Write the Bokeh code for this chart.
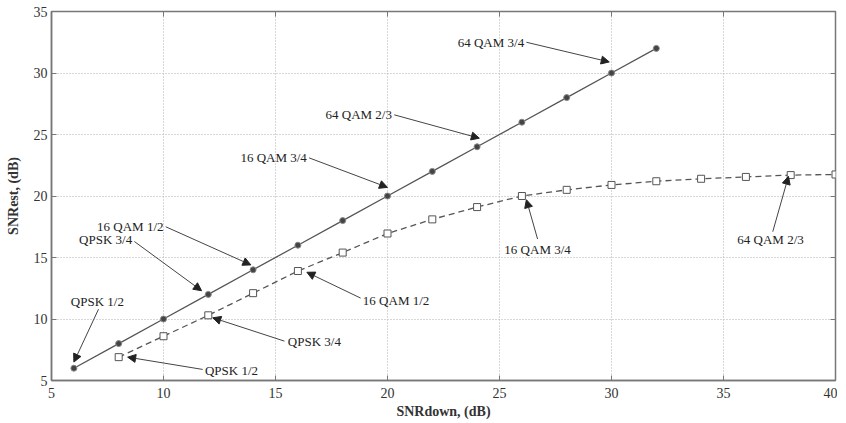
from bokeh.plotting import figure
from bokeh.models import ColumnDataSource, Arrow, NormalHead, LinearAxis, Range1d, FixedTicker
from bokeh.embed import file_html
from bokeh.resources import INLINE
from bokeh.core.properties import value

# ---- data ----
snr_down_a = [6, 8, 10, 12, 14, 16, 18, 20, 22, 24, 26, 28, 30, 32]
snr_est_a = [6, 8, 10, 12, 14, 16, 18, 20, 22, 24, 26, 28, 30, 32]

snr_down_b = [8, 10, 12, 14, 16, 18, 20, 22, 24, 26, 28, 30, 32, 34, 36, 38, 40]
snr_est_b = [6.9, 8.6, 10.3, 12.1, 13.9, 15.4, 16.95, 18.1, 19.1, 20.0, 20.5,
             20.9, 21.2, 21.4, 21.55, 21.7, 21.75]

x_ticks = [5, 10, 15, 20, 25, 30, 35, 40]
y_ticks = [5, 10, 15, 20, 25, 30, 35]

# annotations: label, text x, text y, arrow from (x, y) to (x, y)
ann_right_labels = ["64 QAM 3/4", "64 QAM 2/3", "16 QAM 3/4", "16 QAM 1/2", "QPSK 3/4"]
ann_right_tx = [26.1, 20.2, 16.4, 10.0, 8.6]
ann_right_ty = [32.5, 26.6, 23.1, 17.5, 16.5]

ann_left_labels = ["QPSK 1/2", "QPSK 3/4", "16 QAM 1/2"]
ann_left_tx = [11.85, 15.55, 18.9]
ann_left_ty = [5.8, 8.2, 11.5]

ann_center_labels = ["QPSK 1/2", "16 QAM 3/4", "64 QAM 2/3"]
ann_center_tx = [7.05, 26.7, 37.1]
ann_center_ty = [11.4, 15.65, 16.5]

arrow_x0 = [26.2, 20.3, 16.5, 10.1, 8.7, 11.75, 15.4, 18.8, 7.1, 26.7, 37.2]
arrow_y0 = [32.5, 26.6, 23.1, 17.5, 16.3, 5.9, 8.2, 11.7, 10.8, 16.5, 17.1]
arrow_x1 = [29.9, 24.1, 20.0, 13.9, 11.7, 8.4, 12.2, 16.4, 6.0, 26.2, 37.9]
arrow_y1 = [30.9, 24.7, 20.7, 14.4, 12.3, 6.9, 10.1, 13.8, 6.5, 19.7, 21.6]

SERIF = "Liberation Serif"

p = figure(frame_width=784, frame_height=369,
           x_range=Range1d(5, 40), y_range=Range1d(5, 35),
           output_backend="svg", toolbar_location=None,
           min_border_left=51, min_border_right=2, min_border_top=11, min_border_bottom=36)
p.background_fill_color = "white"
p.border_fill_color = "white"
p.outline_line_color = "#777777"
p.outline_line_width = 1.5

for ax in (p.xaxis[0], p.yaxis[0]):
    ax.major_label_text_font = SERIF
    ax.major_label_text_font_size = "14px"
    ax.major_label_text_color = "#333333"
    ax.major_tick_in = 5
    ax.major_tick_out = 0
    ax.minor_tick_line_color = None
    ax.axis_line_color = "#777777"
    ax.axis_line_width = 1.5
    ax.major_tick_line_color = "#777777"
    ax.axis_label_text_font = SERIF
    ax.axis_label_text_font_size = "14px"
    ax.axis_label_text_font_style = "bold"
    ax.axis_label_text_color = "#333333"
p.xaxis[0].ticker = FixedTicker(ticks=x_ticks)
p.yaxis[0].ticker = FixedTicker(ticks=y_ticks)
p.xaxis[0].axis_label = "SNRdown, (dB)"
p.yaxis[0].axis_label = "SNRest, (dB)"
p.xaxis[0].major_label_standoff = 7
p.yaxis[0].major_label_standoff = 4
p.xaxis[0].axis_label_standoff = 3
p.yaxis[0].axis_label_standoff = 10

for loc, tk in (("above", x_ticks), ("right", y_ticks)):
    ax = LinearAxis(ticker=FixedTicker(ticks=tk), major_tick_in=5, major_tick_out=0,
                    minor_tick_line_color=None, major_label_text_color=None,
                    major_label_text_font_size="1px",
                    major_label_standoff=0, axis_line_color=None,
                    major_tick_line_color="#777777")
    p.add_layout(ax, loc)

p.xgrid.ticker = FixedTicker(ticks=x_ticks)
p.ygrid.ticker = FixedTicker(ticks=y_ticks)
for g in (p.xgrid[0], p.ygrid[0]):
    g.grid_line_color = "#b0b0b0"
    g.grid_line_dash = "1 2"
    g.grid_line_width = 1

# series
p.line(snr_down_a, snr_est_a, line_color="#555555", line_width=1.3)
p.scatter(snr_down_a, snr_est_a, marker="circle", size=6, fill_color="#444444",
          line_color="#888888", line_width=1)

p.line(snr_down_b, snr_est_b, line_color="#555555", line_width=1.3, line_dash="6 4")
p.scatter(snr_down_b, snr_est_b, marker="square", size=7, fill_color="white",
          line_color="#555555", line_width=1)

# annotations
arr_src = ColumnDataSource(dict(x0=arrow_x0, y0=arrow_y0, x1=arrow_x1, y1=arrow_y1))
p.add_layout(Arrow(end=NormalHead(size=8, fill_color="#222222", line_color="#222222"),
                   x_start="x0", y_start="y0", x_end="x1", y_end="y1",
                   line_color="#444444", line_width=1, source=arr_src))

common = dict(text_font=value(SERIF), text_font_size=value("13px"),
              text_color="#222222", text_baseline="middle")
p.text(x=ann_right_tx, y=ann_right_ty, text=ann_right_labels, text_align="right", **common)
p.text(x=ann_left_tx, y=ann_left_ty, text=ann_left_labels, text_align="left", **common)
p.text(x=ann_center_tx, y=ann_center_ty, text=ann_center_labels, text_align="center", **common)

open("out.html", "w").write(file_html(p, INLINE))
